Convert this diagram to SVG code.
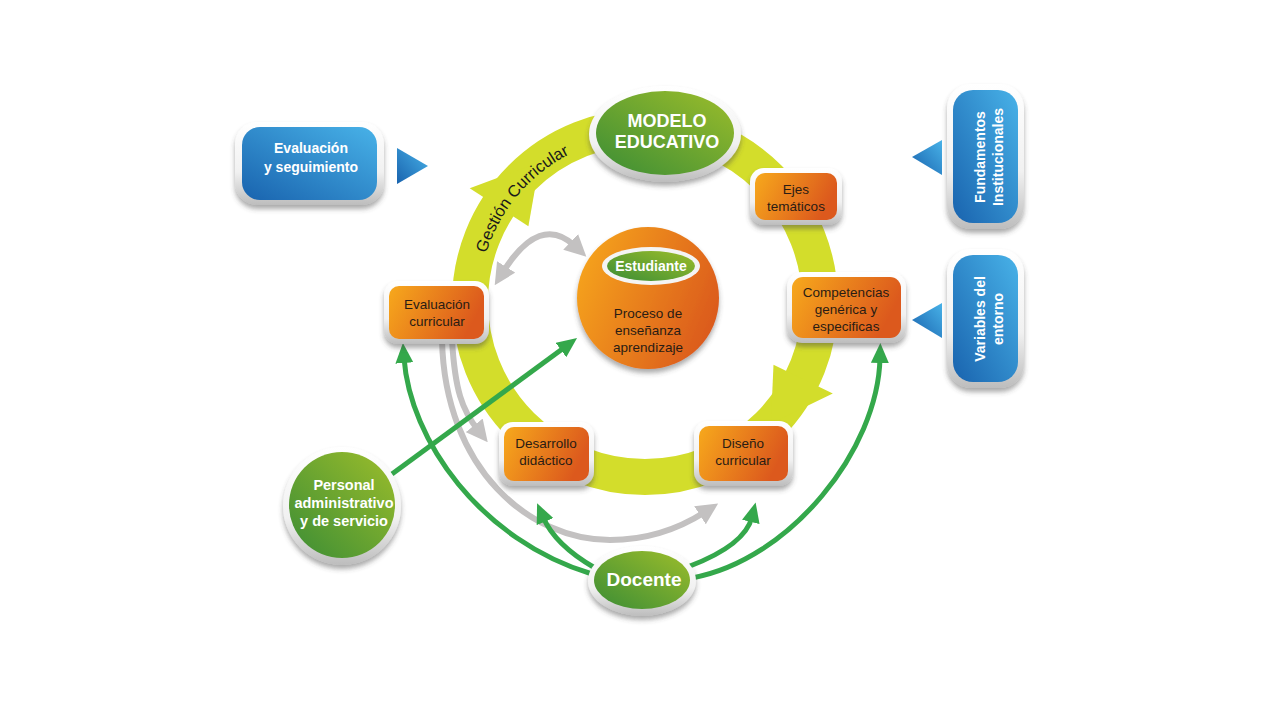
<svg xmlns="http://www.w3.org/2000/svg" width="1280" height="720" viewBox="0 0 1280 720">
<defs>
  <linearGradient id="gOrange" x1="0" y1="0" x2="1" y2="0.3">
    <stop offset="0" stop-color="#f7a91c"/>
    <stop offset="1" stop-color="#dc591d"/>
  </linearGradient>
  <linearGradient id="gCircle" x1="0" y1="0.2" x2="1" y2="0.6">
    <stop offset="0" stop-color="#f6a51b"/>
    <stop offset="1" stop-color="#db5a1c"/>
  </linearGradient>
  <linearGradient id="gGreen" x1="0" y1="1" x2="1" y2="0">
    <stop offset="0" stop-color="#3b8d35"/>
    <stop offset="1" stop-color="#9cbd2b"/>
  </linearGradient>
  <linearGradient id="gBlue" x1="0" y1="1" x2="1" y2="0">
    <stop offset="0" stop-color="#1963ae"/>
    <stop offset="1" stop-color="#48b2e8"/>
  </linearGradient>
  <linearGradient id="gRim" x1="0" y1="0" x2="0" y2="1">
    <stop offset="0" stop-color="#ffffff"/>
    <stop offset="0.6" stop-color="#f1f1f1"/>
    <stop offset="1" stop-color="#bdbdbd"/>
  </linearGradient>
  <filter id="sh" x="-20%" y="-20%" width="140%" height="150%">
    <feDropShadow dx="0" dy="4" stdDeviation="2.5" flood-color="#444" flood-opacity="0.45"/>
  </filter>
  <marker id="mGreen" viewBox="0 0 4 3.6" refX="1" refY="1.8" markerWidth="4" markerHeight="3.6" orient="auto" markerUnits="strokeWidth">
    <path d="M0,0 L4,1.8 L0,3.6 z" fill="#34a84b"/>
  </marker>
  <marker id="mGray" viewBox="0 0 3.6 3.6" refX="1" refY="1.8" markerWidth="3.6" markerHeight="3.6" orient="auto-start-reverse" markerUnits="strokeWidth">
    <path d="M0,0 L3.6,1.8 L0,3.6 z" fill="#c3c1c1"/>
  </marker>
  <path id="arcText" d="M481.5,273.2 A166,166 0 0 1 588.2,146.0"/>
</defs>
<style>
  .rim { fill: url(#gRim); filter: url(#sh); }
  .orange { fill: url(#gOrange); }
  .green { fill: url(#gGreen); }
  .blue { fill: url(#gBlue); }
  .t { font-family: "Liberation Sans", Arial, sans-serif; font-size: 13.5px; fill: #2a1c14; text-anchor: middle; }
  .w { font-family: "Liberation Sans", Arial, sans-serif; font-weight: bold; fill: #ffffff; text-anchor: middle; }
  .gline { fill: none; stroke: #34a84b; stroke-width: 5; marker-end: url(#mGreen); }
  .gray { fill: none; stroke: #c3c1c1; stroke-width: 6; marker-end: url(#mGray); }
</style>
<rect width="1280" height="720" fill="#ffffff"/>

<!-- yellow cycle ring -->
<g id="cycle">
  <circle cx="645" cy="302" r="175" fill="none" stroke="#d3dd2b" stroke-width="36"/>
  <polygon points="469.7,188.2 528.4,226.3 539.7,162.2" fill="#d3dd2b"/>
  <polygon points="832.8,393.6 773.5,364.7 770.9,423.6" fill="#d3dd2b"/>
  <text font-family="Liberation Sans, Arial, sans-serif" font-size="16.5" fill="#1a1a1a"><textPath href="#arcText" startOffset="50%" text-anchor="middle">Gestión Curricular</textPath></text>
</g>

<!-- connectors -->
<g id="connectors">
  <path class="gray" style="marker-start:url(#mGray)" d="M503,272 Q540,213 575,246"/>
  <path class="gray" d="M452,340 C455,390 462,410 478,430"/>
  <path class="gray" d="M442,340 C445,470 530,540 610,540 C650,540 680,528 705,512"/>
  <path class="gline" d="M392,474 L565,347"/>
  <path class="gline" d="M592,574 C480,540 410,440 404,358"/>
  <path class="gline" d="M595,568 Q555,545 543,517"/>
  <path class="gline" d="M690,566 Q745,545 752,517"/>
  <path class="gline" d="M692,578 C790,560 878,450 880,358"/>
</g>

<!-- MODELO EDUCATIVO -->
<g id="modelo">
  <ellipse class="rim" cx="665" cy="134" rx="76" ry="48"/>
  <ellipse class="green" cx="665" cy="133" rx="69" ry="42"/>
  <text class="w" x="667" y="127" font-size="18">MODELO</text>
  <text class="w" x="667" y="148" font-size="18">EDUCATIVO</text>
</g>

<!-- Ejes temáticos -->
<g id="ejes">
  <rect class="rim" x="750" y="168" width="92" height="57" rx="14"/>
  <rect class="orange" x="755" y="173" width="82" height="47" rx="10"/>
  <text class="t" x="796" y="194">Ejes</text>
  <text class="t" x="796" y="211">temáticos</text>
</g>

<!-- Competencias -->
<g id="competencias">
  <rect class="rim" x="787" y="272" width="119" height="71" rx="15"/>
  <rect class="orange" x="792" y="277" width="109" height="61" rx="11"/>
  <text class="t" x="846" y="297">Competencias</text>
  <text class="t" x="846" y="314">genérica y</text>
  <text class="t" x="846" y="331">especificas</text>
</g>

<!-- Evaluación curricular -->
<g id="evaluacion-curricular">
  <rect class="rim" x="384" y="281" width="105" height="63" rx="14"/>
  <rect class="orange" x="389" y="286" width="95" height="53" rx="10"/>
  <text class="t" x="437" y="309">Evaluación</text>
  <text class="t" x="437" y="326">curricular</text>
</g>

<!-- Desarrollo didáctico -->
<g id="desarrollo">
  <rect class="rim" x="499" y="422" width="95" height="64" rx="14"/>
  <rect class="orange" x="504" y="427" width="85" height="54" rx="10"/>
  <text class="t" x="546" y="448">Desarrollo</text>
  <text class="t" x="546" y="465">didáctico</text>
</g>

<!-- Diseño curricular -->
<g id="diseno">
  <rect class="rim" x="694" y="421" width="99" height="65" rx="14"/>
  <rect class="orange" x="699" y="426" width="89" height="55" rx="10"/>
  <text class="t" x="743" y="448">Diseño</text>
  <text class="t" x="743" y="465">curricular</text>
</g>

<!-- Proceso de enseñanza aprendizaje / Estudiante -->
<g id="proceso">
  <circle cx="648" cy="298" r="71" fill="url(#gCircle)" filter="url(#sh)"/>
  <ellipse cx="651" cy="266" rx="49" ry="19" fill="#f4f4f4"/>
  <ellipse class="green" cx="651" cy="266" rx="44" ry="15"/>
  <text class="w" x="651" y="271" font-size="14">Estudiante</text>
  <text class="t" x="648" y="318">Proceso de</text>
  <text class="t" x="648" y="335">enseñanza</text>
  <text class="t" x="648" y="352">aprendizaje</text>
</g>

<!-- Docente -->
<g id="docente">
  <ellipse class="rim" cx="642" cy="581" rx="54" ry="35"/>
  <ellipse class="green" cx="642" cy="580" rx="48" ry="29"/>
  <text class="w" x="644" y="586" font-size="19">Docente</text>
</g>

<!-- Personal administrativo y de servicio -->
<g id="personal">
  <circle class="rim" cx="342" cy="506" r="59"/>
  <circle class="green" cx="342" cy="505" r="53"/>
  <text class="w" x="344" y="490" font-size="14.5">Personal</text>
  <text class="w" x="344" y="508" font-size="14.5">administrativo</text>
  <text class="w" x="344" y="526" font-size="14.5">y de servicio</text>
</g>

<!-- Evaluación y seguimiento -->
<g id="evaluacion-seguimiento">
  <rect class="rim" x="235" y="122" width="149" height="83" rx="22"/>
  <rect class="blue" x="242" y="127" width="135" height="73" rx="18"/>
  <text class="w" x="311" y="153" font-size="14">Evaluación</text>
  <text class="w" x="311" y="172" font-size="14">y seguimiento</text>
  <polygon class="blue" points="397,148 428,166 397,184"/>
</g>

<!-- Fundamentos Institucionales -->
<g id="fundamentos">
  <rect class="rim" x="947" y="84" width="77" height="145" rx="24"/>
  <rect class="blue" x="953" y="90" width="65" height="133" rx="20"/>
  <g transform="translate(985,157) rotate(-90)">
    <text class="w" x="0" y="0" font-size="14">Fundamentos</text>
    <text class="w" x="0" y="18" font-size="14">Institucionales</text>
  </g>
  <polygon class="blue" points="942,140 912,157 942,175"/>
</g>

<!-- Variables del entorno -->
<g id="variables">
  <rect class="rim" x="947" y="249" width="77" height="139" rx="24"/>
  <rect class="blue" x="953" y="255" width="65" height="127" rx="20"/>
  <g transform="translate(985,319) rotate(-90)">
    <text class="w" x="0" y="0" font-size="14">Variables del</text>
    <text class="w" x="0" y="18" font-size="14">entorno</text>
  </g>
  <polygon class="blue" points="942,303 912,320 942,338"/>
</g>
</svg>
